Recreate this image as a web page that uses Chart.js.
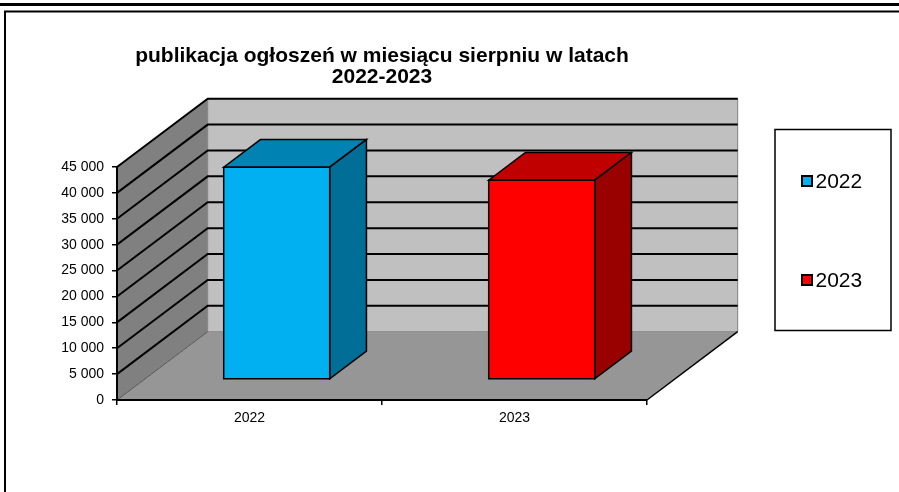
<!DOCTYPE html>
<html lang="pl">
<head>
<meta charset="UTF-8">
<title>publikacja ogłoszeń w miesiącu sierpniu</title>
<script src="https://cdn.jsdelivr.net/npm/chart.js"></script>
<style>
  html, body { margin: 0; padding: 0; background: #fff; }
  #wrap { position: relative; width: 899px; height: 492px; }
</style>
</head>
<body>
<div id="wrap"><canvas id="chart" width="899" height="492"></canvas></div>
<script>
// data
const categories = ['2022', '2023'];
const seriesNames = ['2022', '2023'];
const values2022 = [41000, null];
const values2023 = [null, 38500];
const yMin = 0;
const yMax = 45000;
const yStep = 5000;
const titleLines = ['publikacja ogłoszeń w miesiącu sierpniu w latach', '2022-2023'];

const FONT = "'Liberation Sans', Arial, sans-serif";

// 3d look: depth of the walls and where the bars sit inside it
const wallDepth = { dx: 90.7, dy: -68.3 };
const barFront = 0.3;
const barDepth = 0.405;

function fmt(v) {
    return String(v).replace(/\B(?=(\d{3})+(?!\d))/g, ' ');
}

function poly(ctx, pts, fill, stroke, lw) {
    ctx.beginPath();
    ctx.moveTo(pts[0][0], pts[0][1]);
    for (let i = 1; i < pts.length; i++) ctx.lineTo(pts[i][0], pts[i][1]);
    ctx.closePath();
    if (fill) { ctx.fillStyle = fill; ctx.fill(); }
    if (stroke) { ctx.strokeStyle = stroke; ctx.lineWidth = lw || 1; ctx.stroke(); }
}

const box3d = {
    id: 'box3d',
    beforeDraw(chart) {
        const ctx = chart.ctx;
        ctx.save();
        // outer frame
        ctx.fillStyle = '#000';
        ctx.fillRect(0, 3, 899, 3);
        ctx.beginPath();
        ctx.moveTo(5, 495);
        ctx.lineTo(5, 11.5);
        ctx.lineTo(902, 11.5);
        ctx.lineWidth = 2;
        ctx.strokeStyle = '#000';
        ctx.stroke();
        ctx.restore();
    },
    beforeDatasetsDraw(chart) {
        const { ctx, chartArea: a, scales } = chart;
        const y = scales.y;
        const dx = wallDepth.dx, dy = wallDepth.dy;
        const L = a.left, R = a.right, T = a.top, B = a.bottom;
        ctx.save();
        ctx.lineJoin = 'miter';

        // side wall, back wall, floor
        poly(ctx, [[L, B], [L + dx, B + dy], [L + dx, T + dy], [L, T]], '#808080');
        poly(ctx, [[L + dx, T + dy], [R + dx, T + dy], [R + dx, B + dy], [L + dx, B + dy]], '#C0C0C0', '#808080', 1);
        poly(ctx, [[L, B], [R, B], [R + dx, B + dy], [L + dx, B + dy]], '#969696');

        // floor edges
        ctx.beginPath();
        ctx.moveTo(L, B); ctx.lineTo(L + dx, B + dy);
        ctx.strokeStyle = '#555'; ctx.lineWidth = 1; ctx.stroke();
        ctx.beginPath();
        ctx.moveTo(R, B); ctx.lineTo(R + dx, B + dy);
        ctx.strokeStyle = '#000'; ctx.lineWidth = 1.5; ctx.stroke();

        // gridlines on the walls
        ctx.strokeStyle = '#000';
        ctx.lineWidth = 2;
        y.ticks.forEach(t => {
            if (t.value === yMin) return;
            const py = y.getPixelForValue(t.value);
            ctx.beginPath();
            ctx.moveTo(L, py);
            ctx.lineTo(L + dx, py + dy);
            ctx.lineTo(R + dx, py + dy);
            ctx.stroke();
        });

        // bars as boxes
        chart.data.datasets.forEach((ds, i) => {
            const meta = chart.getDatasetMeta(i);
            meta.data.forEach((bar, j) => {
                if (ds.data[j] == null) return;
                const p = bar.getProps(['x', 'y', 'base', 'width'], true);
                const ox = barFront * dx, oy = barFront * dy;
                const bx = barDepth * dx, by = barDepth * dy;
                const x0 = p.x - p.width / 2 + ox, x1 = p.x + p.width / 2 + ox;
                const y0 = p.y + oy, y1 = p.base + oy;
                poly(ctx, [[x0, y0], [x1, y0], [x1 + bx, y0 + by], [x0 + bx, y0 + by]], ds.topColor, '#000', 1.5);
                poly(ctx, [[x1, y0], [x1 + bx, y0 + by], [x1 + bx, y1 + by], [x1, y1]], ds.sideColor, '#000', 1.5);
                poly(ctx, [[x0, y0], [x1, y0], [x1, y1], [x0, y1]], ds.backgroundColor, '#000', 1.5);
            });
        });
        ctx.restore();
        return false;
    },
    afterDraw(chart) {
        const ctx = chart.ctx;
        ctx.save();
        // legend box
        ctx.strokeStyle = '#000';
        ctx.lineWidth = 1.5;
        ctx.strokeRect(775, 129.5, 116, 201);
        ctx.font = '21px ' + FONT;
        ctx.textBaseline = 'middle';
        ctx.textAlign = 'left';
        const rows = [181, 280];
        chart.data.datasets.forEach((ds, i) => {
            const cy = rows[i];
            ctx.fillStyle = ds.backgroundColor;
            ctx.fillRect(802, cy - 5, 10, 10);
            ctx.lineWidth = 2;
            ctx.strokeStyle = '#000';
            ctx.strokeRect(802, cy - 5, 10, 10);
            ctx.fillStyle = '#000';
            ctx.fillText(ds.label, 815.5, cy + 1);
        });
        ctx.restore();
    }
};

const ctx = document.getElementById('chart').getContext('2d');
new Chart(ctx, {
    type: 'bar',
    data: {
        labels: categories,
        datasets: [
            { label: seriesNames[0], data: values2022, backgroundColor: '#00B0F0', topColor: '#0082B2', sideColor: '#006E96' },
            { label: seriesNames[1], data: values2023, backgroundColor: '#FF0000', topColor: '#C00000', sideColor: '#990000' }
        ]
    },
    options: {
        responsive: false,
        animation: false,
        events: [],
        layout: { padding: { left: 0, right: 252, top: 0, bottom: 0 } },
        datasets: { bar: { skipNull: true, categoryPercentage: 0.4, barPercentage: 1 } },
        plugins: {
            legend: { display: false },
            tooltip: { enabled: false },
            title: {
                display: true,
                fullSize: false,
                text: titleLines,
                color: '#000',
                font: { family: FONT, size: 21, weight: 'bold', lineHeight: 1 },
                padding: { top: 46, bottom: 79 }
            }
        },
        scales: {
            x: {
                grid: { display: true, drawOnChartArea: false, offset: true, tickLength: 5, color: '#000', lineWidth: 1.5 },
                border: { display: true, color: '#000', width: 2, z: 1 },
                ticks: { color: '#000', font: { family: FONT, size: 14 }, padding: 5 },
                afterFit(scale) { scale.height = 92; }
            },
            y: {
                min: yMin,
                max: yMax,
                grid: { display: true, drawOnChartArea: false, tickLength: 5, color: '#000', lineWidth: 1.5 },
                border: { display: true, color: '#000', width: 2, z: 1 },
                ticks: { stepSize: yStep, color: '#000', font: { family: FONT, size: 14 }, padding: 8, callback: v => fmt(v) },
                afterFit(scale) { scale.width = 117; }
            }
        }
    },
    plugins: [box3d]
});
</script>
</body>
</html>
